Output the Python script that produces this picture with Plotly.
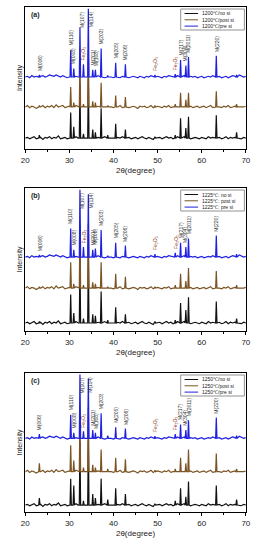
import plotly.graph_objects as go

# ---------------- data ----------------
panel_tags = ["(a)", "(b)", "(c)"]
series_names = [
    ["1200℃/no si", "1200℃/post si", "1200℃/pre si"],
    ["1225℃: no si", "1225℃: post si", "1225℃: pre si"],
    ["1250℃/no si", "1250℃/post si", "1250℃/pre si"],
]
series_colors = ["#111111", "#7a5424", "#1f1fe0"]

# vertical offsets (stacking) of black / brown / blue patterns, per panel
offsets = [
    [7.7, 29.6, 50.7],
    [5.6, 30.0, 51.7],
    [5.0, 29.0, 53.0],
]

peak_2theta = [23.2, 30.3, 31.0, 32.4, 33.2, 34.3, 35.3, 35.9, 37.2, 38.7,
               40.5, 42.7, 49.4, 54.0, 55.2, 56.4, 57.0, 63.3, 67.9]

# peak heights  [panel][series] aligned with peak_2theta
peak_heights = [
    [  # (a)
        [2, 18, 8, 38, 3, 42, 6, 4, 21, 2, 10, 6, 1, 2, 14, 7, 15, 16, 4],
        [1, 14, 3, 35, 2, 40, 4, 3, 17, 1, 8, 7, 1, 2, 10, 5, 10, 11, 2],
        [1.5, 19, 6, 35, 9, 48, 5, 5, 20, 1, 10, 9, 1.5, 2, 12, 8, 14, 15, 1.5],
    ],
    [  # (b)
        [1, 20, 7, 45, 3, 47, 6, 5, 22, 2, 11, 6, 1, 2, 14, 9, 18, 15, 3],
        [1, 18, 3, 45, 2, 45, 4, 3, 18, 1, 10, 8, 1, 2, 10, 5, 14, 12, 2],
        [1.5, 20, 5, 47, 7, 44, 5, 6, 19, 1, 10, 8, 2, 3, 10, 7, 13, 15, 2],
    ],
    [  # (c)
        [5, 19, 14, 45, 3, 47, 8, 5, 19, 4, 12, 8, 1, 3, 12, 6, 17, 14, 4],
        [6, 19, 8, 44, 3, 46, 5, 3, 16, 2, 10, 9, 1, 2, 10, 6, 16, 13, 2],
        [3, 17, 4, 46, 5, 43, 6, 4, 18, 2, 8, 7, 1.5, 3, 10, 6, 13, 15, 2],
    ],
]

# background wiggle, 20..70 deg in 0.5 deg steps
bg_2theta = [20 + 0.5 * k for k in range(101)]
bg_black = [0, 1, -1, 0, 2, -1, 0, 1, -2, 1,
            0, 2, -1, 1, 0, 3, -1, 0, 1, -1,
            0, 1, -1, 2, 0, 1, -1, 1, 0, 2,
            1, 2, 0, 1, -1, 0, 2, -1, 1, 0,
            0, -1, 1, 0, 2, -1, 0, 1, -1, 0,
            1, -1, 0, 2, 0, -1, 1, 0, -2, 1,
            0, 1, -1, 0, 2, 0, 1, -1, 1, 2,
            0, 1, 2, 0, 1, -1, 0, 1, 0, -1,
            1, 0, -1, 2, 0, 1, -1, 0, 1, -1,
            0, 2, -1, 1, 0, 1, 3, 0, -1, 1,
            0]
bg_brown = [0, 2, -1, 1, 0, -2, 1, 0, 2, -1,
            1, 0, 2, -1, 3, 0, 1, 2, -1, 0,
            1, -1, 0, 2, 1, 0, -1, 1, 2, 0,
            1, 2, 0, 1, -1, 1, 0, -1, 1, 0,
            -1, 1, 0, 2, -1, 0, 1, -1, 0, 1,
            0, -2, 1, 0, 1, -1, 0, 2, -1, 0,
            1, 0, -1, 1, 0, 2, -1, 0, 1, 0,
            -1, 1, 0, 2, 0, 1, -1, 0, 1, -1,
            0, 1, -1, 0, 2, -1, 0, 1, 0, -1,
            1, 0, 2, -1, 0, 1, 2, 0, -1, 0,
            1]
bg_blue = [0, 1, -1, 2, 0, 1, -1, 1, 2, 0,
           1, 3, 2, 1, 3, 2, 0, 2, 1, -1,
           0, 1, -1, 1, 0, 2, 1, 0, 2, 1,
           2, 3, 1, 2, 0, 1, -1, 0, 1, 0,
           -1, 1, 0, -1, 1, 0, 2, -1, 0, 1,
           0, -1, 1, 0, -1, 1, 0, 2, 0, -1,
           1, 0, -1, 1, 0, 2, 1, 0, 1, 2,
           0, 1, 2, 0, -1, 1, 0, 1, -1, 0,
           1, -1, 0, 1, 0, 2, -1, 0, 1, -1,
           0, 1, -1, 0, 2, 1, 0, 3, 1, 0,
           1]
backgrounds = [bg_black, bg_brown, bg_blue]

# phase labels: text, 2theta of label, index of peak it sits on
label_text = ["M(006)", "M(110)", "M(008)", "M(107)", "Fe₂O₃",
              "M(114)", "M(201)", "M(108)", "M(203)", "M(205)", "M(206)",
              "Fe₂O₃", "Fe₂O₃", "M(217)", "M(304)", "M(2011)", "M(220)"]
label_2theta = [23.2, 30.3, 31.0, 32.4, 33.2, 34.3, 35.3, 35.9, 37.2, 40.5, 42.7,
                49.4, 54.0, 55.2, 56.2, 57.0, 63.3]
label_peak = [0, 1, 2, 3, 4, 5, 6, 7, 8, 10, 11, 12, 13, 14, 15, 16, 17]

x_ticks = [20, 30, 40, 50, 60, 70]

# ---------------- layout helpers ----------------
W, H = 261, 550
FONT = "Arial, Liberation Sans, sans-serif"
panel_top = [7, 188, 373]
panel_bot = [149, 331, 512]
x_left, x_right = 22, 250.5


def px_x(v):
    return v / W


def px_y(v):
    return 1 - v / H


BG_SCALE = 0.5
HALF = 0.15


def pattern(base, heights, bg):
    pts = []
    for t, b in zip(bg_2theta, bg):
        if all(abs(t - p) > 0.3 for p in peak_2theta):
            pts.append((t, base + BG_SCALE * b))
    for p, h in zip(peak_2theta, heights):
        pts += [(p - HALF, base), (p, base + h), (p + HALF, base)]
    pts.sort()
    return [q[0] for q in pts], [q[1] for q in pts]


fig = go.Figure()
annotations = []
shapes = []

for i in range(3):
    ax = "" if i == 0 else str(i + 1)
    for s in range(3):
        xs, ys = pattern(offsets[i][s], peak_heights[i][s], backgrounds[s])
        fig.add_trace(go.Scatter(
            x=xs, y=ys, mode="lines", name=series_names[i][s],
            line=dict(color=series_colors[s], width=1.2),
            xaxis="x" + ax, yaxis="y" + ax, showlegend=False,
        ))

    dom_y = [px_y(panel_bot[i]), px_y(panel_top[i])]
    fig.update_layout(**{
        "xaxis" + ax: dict(
            domain=[px_x(x_left), px_x(x_right)], anchor="y" + ax,
            range=[20, 70], tickvals=x_ticks, ticks="outside", ticklen=3,
            tickwidth=1, tickcolor="black", showline=True, linecolor="black",
            linewidth=1, mirror=True, showgrid=False, zeroline=False,
            minor=dict(dtick=5, tick0=20, ticks="outside", ticklen=2,
                       tickcolor="black"),
            tickfont=dict(size=8, family=FONT, color="#222"),
            title=dict(text="2θ(degree)", font=dict(size=8, family=FONT, color="#222"),
                       standoff=3),
        ),
        "yaxis" + ax: dict(
            domain=dom_y, anchor="x" + ax, range=[0, 100],
            showticklabels=False, ticks="", showline=True, linecolor="black",
            linewidth=1, mirror=True, showgrid=False, zeroline=False,
            title=dict(text="Intensity", font=dict(size=7, family=FONT, color="#222"),
                       standoff=0),
        ),
    })

    # panel tag
    annotations.append(dict(
        text="<b>" + panel_tags[i] + "</b>", xref="paper", yref="paper",
        x=px_x(26), y=px_y(panel_top[i] + 8), xanchor="left", yanchor="middle",
        showarrow=False, font=dict(size=7, family=FONT, color="#222")))

    # phase labels above the pre-si pattern
    blue_base = offsets[i][2]
    for txt, lx, pk in zip(label_text, label_2theta, label_peak):
        top = blue_base + peak_heights[i][2][pk]
        y = top + 1.5
        x = lx
        if y > 84:
            y = 84
            x = lx + 0.5
        is_fe = "Fe" in txt
        annotations.append(dict(
            text=txt, x=x, y=y, xref="x" + ax, yref="y" + ax,
            xanchor="center", yanchor="bottom", textangle=-90, showarrow=False,
            font=dict(size=5, family=FONT, color="#8b3a1a" if is_fe else "#333")))

    # legend box (compact, like the original)
    t = panel_top[i]
    shapes.append(dict(type="rect", xref="paper", yref="paper",
                       x0=px_x(183), x1=px_x(249), y0=px_y(t + 23), y1=px_y(t + 2),
                       line=dict(color="#777", width=0.8), fillcolor="white"))
    for s in range(3):
        ry = t + 6.5 + 6.3 * s
        shapes.append(dict(type="line", xref="paper", yref="paper",
                           x0=px_x(187), x1=px_x(201), y0=px_y(ry), y1=px_y(ry),
                           line=dict(color=series_colors[s], width=1)))
        annotations.append(dict(
            text=series_names[i][s], xref="paper", yref="paper",
            x=px_x(203), y=px_y(ry), xanchor="left", yanchor="middle",
            showarrow=False, font=dict(size=5, family=FONT, color="#222")))

fig.update_layout(
    width=W, height=H, margin=dict(l=0, r=0, t=0, b=0),
    paper_bgcolor="white", plot_bgcolor="white",
    annotations=annotations, shapes=shapes, showlegend=False,
    font=dict(family=FONT),
)

fig.write_html("out.html", config={"displayModeBar": False})

# remove the browser's default page margin so the figure sits at (0, 0)
with open("out.html", encoding="utf-8") as f:
    page = f.read()
page = page.replace("<head>", "<head><style>html,body{margin:0;padding:0;overflow:hidden;}</style>", 1)
with open("out.html", "w", encoding="utf-8") as f:
    f.write(page)
